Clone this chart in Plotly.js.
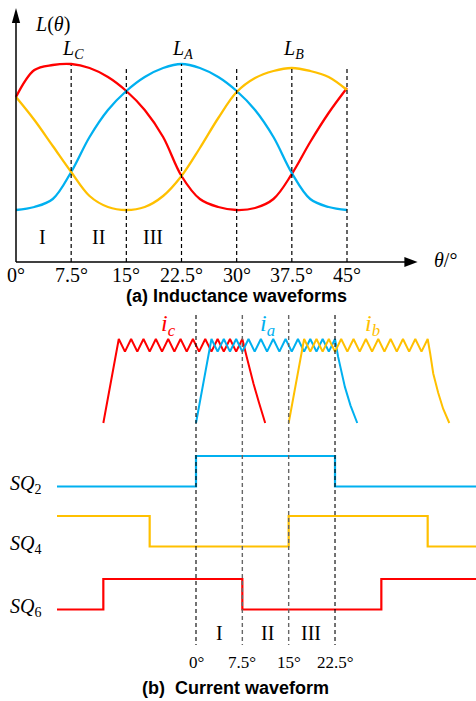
<!DOCTYPE html>
<html><head><meta charset="utf-8">
<script src="https://cdn.plot.ly/plotly-3.0.1.min.js"></script>
<style>html,body{margin:0;padding:0;background:#fff;}#chart{width:476px;height:701px;}</style>
</head><body><div id="chart"></div>
<script>
const W = 476, H = 701;

// ---------- (a) Inductance waveforms ----------
const thetaL = [0, 2.5, 5, 7.5, 10, 12.5, 15, 17.5, 20, 22.5, 25, 27.5, 30, 32.5, 35, 37.5, 40, 42.5, 45];
const L_A = [5.2, 5.5, 6.3, 9.0, 12.5, 15.2, 17.1, 18.5, 19.4, 19.8, 19.4, 18.5, 17.1, 15.2, 12.5, 8.9, 6.3, 5.5, 5.2];
const L_B = [16.5, 14.2, 11.6, 9.0, 6.6, 5.5, 5.2, 5.5, 6.6, 8.6, 11.4, 14.4, 17.0, 18.4, 19.1, 19.4, 19.1, 18.5, 17.2];
const L_C = [16.5, 19.2, 19.7, 19.8, 19.4, 18.5, 17.1, 15.2, 12.5, 8.6, 6.3, 5.5, 5.2, 5.4, 6.3, 8.8, 12.0, 14.9, 17.4];
const tickValsA = [0, 7.5, 15, 22.5, 30, 37.5, 45];
const tickTextA = ['0°', '7.5°', '15°', '22.5°', '30°', '37.5°', '45°'];
const dashValsA = [7.5, 15, 22.5, 30, 37.5, 45];
const dashTopsA = [19.7, 19.6, 19.8, 19.6, 19.3, 19.6];
const peakNames = ['<i>L</i><sub><i>C</i></sub>', '<i>L</i><sub><i>A</i></sub>', '<i>L</i><sub><i>B</i></sub>'];
const peakAt = [7.5, 22.5, 37.5];
const regionNames = ['I', 'II', 'III'];

// ---------- (b) Current waveform ----------
const theta_ic = [-15, -12.5, -11.5, -10.5, -9.5, -8.5, -7.5, -6.5, -5.5, -4.5, -3.5, -2.5, -1.5, -0.5, 0.5, 1.5, 2.5, 3.5, 4.5, 5.5, 6.5, 7.5, 8.2, 8.7, 9.3, 10.2, 11.2];
const i_c = [0, 1, 0.85, 1, 0.85, 1, 0.85, 1, 0.85, 1, 0.85, 1, 0.85, 1, 0.85, 1, 0.85, 1, 0.85, 1, 0.85, 1, 0.79, 0.64, 0.47, 0.24, 0];
const theta_ia = [0, 2.5, 3.5, 4.5, 5.5, 6.5, 7.5, 8.5, 9.5, 10.5, 11.5, 12.5, 13.5, 14.5, 15.5, 16.5, 17.5, 18.5, 19.5, 20.5, 21.5, 22.5, 23.0, 23.5, 24.1, 25.0, 26.1];
const i_a = [0, 1, 0.85, 1, 0.85, 1, 0.85, 1, 0.85, 1, 0.85, 1, 0.85, 1, 0.85, 1, 0.85, 1, 0.85, 1, 0.85, 1, 0.79, 0.62, 0.43, 0.21, 0];
const theta_ib = [15, 17.5, 18.5, 19.5, 20.5, 21.5, 22.5, 23.5, 24.5, 25.5, 26.5, 27.5, 28.5, 29.5, 30.5, 31.5, 32.5, 33.5, 34.5, 35.5, 36.5, 37.5, 37.9, 38.4, 39.2, 40.0, 41.0];
const i_b = [0, 1, 0.85, 1, 0.85, 1, 0.85, 1, 0.85, 1, 0.85, 1, 0.85, 1, 0.85, 1, 0.85, 1, 0.85, 1, 0.85, 1, 0.83, 0.59, 0.36, 0.17, 0];
const theta_sq = [-22.5, -15, -7.5, 0, 7.5, 15, 22.5, 30, 37.5, 46];
const sq2 = [0, 0, 0, 1, 1, 1, 0, 0, 0, 0];
const sq4 = [1, 1, 0, 0, 0, 1, 1, 1, 0, 0];
const sq6 = [0, 1, 1, 1, 0, 0, 0, 1, 1, 1];
const tickValsB = [0, 7.5, 15, 22.5];
const tickTextB = ['0°', '7.5°', '15°', '22.5°'];
const sqNames = ['<i>SQ</i><sub>2</sub>', '<i>SQ</i><sub>4</sub>', '<i>SQ</i><sub>6</sub>'];
const curNames = ['<i>i</i><sub><i>c</i></sub>', '<i>i</i><sub><i>a</i></sub>', '<i>i</i><sub><i>b</i></sub>'];

// ---------- styling / layout ----------
const RED = '#ff0000', BLUE = '#00b0f0', YEL = '#ffc000';
const serif = 'Liberation Serif, Times New Roman, serif';
const sans = 'Liberation Sans, Arial, sans-serif';
const splitFrac = 1 - 300 / H;

// bottom panel vertical placement (y2 axis in panel pixels)
const curBase = 423, curAmp = 84;
const sqLow = [486.5, 546.5, 609.5], sqAmp = 30.5;
const cur = (arr) => arr.map(v => curBase - v * curAmp);
const sq = (arr, k) => arr.map(v => sqLow[k] - v * sqAmp);

const traces = [
  {x: thetaL, y: L_C, xaxis: 'x', yaxis: 'y', mode: 'lines', line: {color: RED, width: 2.3, shape: 'spline'}},
  {x: thetaL, y: L_A, xaxis: 'x', yaxis: 'y', mode: 'lines', line: {color: BLUE, width: 2.3, shape: 'spline'}},
  {x: thetaL, y: L_B, xaxis: 'x', yaxis: 'y', mode: 'lines', line: {color: YEL, width: 2.3, shape: 'spline'}},
  {x: theta_ic, y: cur(i_c), xaxis: 'x2', yaxis: 'y2', mode: 'lines', line: {color: RED, width: 2}},
  {x: theta_ia, y: cur(i_a), xaxis: 'x2', yaxis: 'y2', mode: 'lines', line: {color: BLUE, width: 2}},
  {x: theta_ib, y: cur(i_b), xaxis: 'x2', yaxis: 'y2', mode: 'lines', line: {color: YEL, width: 2}},
  {x: theta_sq, y: sq(sq2, 0), xaxis: 'x2', yaxis: 'y2', mode: 'lines', line: {color: BLUE, width: 2.2, shape: 'hv'}},
  {x: theta_sq, y: sq(sq4, 1), xaxis: 'x2', yaxis: 'y2', mode: 'lines', line: {color: YEL, width: 2.2, shape: 'hv'}},
  {x: theta_sq, y: sq(sq6, 2), xaxis: 'x2', yaxis: 'y2', mode: 'lines', line: {color: RED, width: 2.2, shape: 'hv'}}
];

const shapes = [];
// axes of panel (a)
shapes.push({type: 'line', xref: 'x', yref: 'y', x0: 0, x1: 0, y0: 0, y1: 24.2, line: {color: '#000', width: 1.5}});
shapes.push({type: 'path', xref: 'x', yref: 'y', path: 'M 0,25.4 L -0.56,23.9 L 0.56,23.9 Z', fillcolor: '#000', line: {width: 0}});
shapes.push({type: 'line', xref: 'x', yref: 'y', x0: 0, x1: 53.2, y0: 0, y1: 0, line: {color: '#000', width: 1.5}});
shapes.push({type: 'path', xref: 'x', yref: 'y', path: 'M 54.6,0 L 52.8,0.5 L 52.8,-0.5 Z', fillcolor: '#000', line: {width: 0}});
dashValsA.forEach((v, i) => shapes.push({type: 'line', xref: 'x', yref: 'y', x0: v, x1: v, y0: 0, y1: dashTopsA[i], line: {color: '#000', width: 1.2, dash: '4px,3px'}}));
// dashed lines of panel (b)
tickValsB.forEach((v, i) => shapes.push({type: 'line', xref: 'x2', yref: 'y2', x0: v, x1: v, y0: 315, y1: 645,
  line: {color: (i === 1 || i === 2) ? '#666' : '#000', width: (i === 1 || i === 2) ? 1.4 : 1.1, dash: '4px,3px'}}));

const P = (x, y) => ({x: x / W, y: 1 - y / H, xref: 'paper', yref: 'paper'});
const ann = [];
const add = (o) => ann.push(Object.assign({showarrow: false, xanchor: 'center', yanchor: 'middle'}, o));

add(Object.assign(P(52, 24), {text: '<i>L</i>(<i>θ</i>)', font: {family: serif, size: 20, color: '#000'}}));
peakAt.forEach((v, i) => add({x: v + 0.2, y: 21.3, xref: 'x', yref: 'y', text: peakNames[i], font: {family: serif, size: 20, color: '#000'}}));
add(Object.assign(P(445, 260), {text: '<i>θ</i>/°', font: {family: serif, size: 20, color: '#000'}}));
[[42.5, 237], [98.5, 237], [153, 237]].forEach((p, i) => add(Object.assign(P(p[0], p[1]), {text: regionNames[i], font: {family: serif, size: 20, color: '#000'}})));
tickValsA.forEach((v, i) => add({x: v, y: -1.3, xref: 'x', yref: 'y', text: tickTextA[i], font: {family: serif, size: 20, color: '#000'}}));
add(Object.assign(P(236, 296), {text: '<b>(a) Inductance waveforms</b>', font: {family: sans, size: 18, color: '#000'}}));

[[168, 325, RED], [267, 325, BLUE], [372, 325, YEL]].forEach((p, i) => add(Object.assign(P(p[0], p[1]), {text: curNames[i], font: {family: serif, size: 24, color: p[2]}})));
sqLow.forEach((y, i) => add(Object.assign(P(25, y - 2), {text: sqNames[i], font: {family: serif, size: 20, color: '#000'}})));
[[219, 633], [267, 633], [311, 633]].forEach((p, i) => add(Object.assign(P(p[0], p[1]), {text: regionNames[i], font: {family: serif, size: 20, color: '#000'}})));
tickValsB.forEach((v, i) => add({x: v, y: 662, xref: 'x2', yref: 'y2', text: tickTextB[i], font: {family: serif, size: 17, color: '#000'}}));
add(Object.assign(P(235, 688), {text: '<b>(b)\u00a0\u00a0Current waveform</b>', font: {family: sans, size: 18, color: '#000'}}));

const layout = {
  width: W, height: H,
  margin: {l: 0, r: 0, t: 0, b: 0},
  paper_bgcolor: '#fff', plot_bgcolor: 'rgba(0,0,0,0)',
  showlegend: false,
  xaxis: {domain: [0, 1], range: [-16 / 7.3556, 460 / 7.3556], visible: false, fixedrange: true},
  yaxis: {domain: [splitFrac, 1], range: [-3.8, 26.2], visible: false, fixedrange: true},
  xaxis2: {domain: [0, 1], range: [-196 / 6.178, 280 / 6.178], anchor: 'y2', visible: false, fixedrange: true},
  yaxis2: {domain: [0, splitFrac], range: [701, 300], anchor: 'x2', visible: false, fixedrange: true},
  shapes: shapes,
  annotations: ann
};

Plotly.newPlot('chart', traces, layout, {staticPlot: true, displayModeBar: false});
</script>
</body></html>
